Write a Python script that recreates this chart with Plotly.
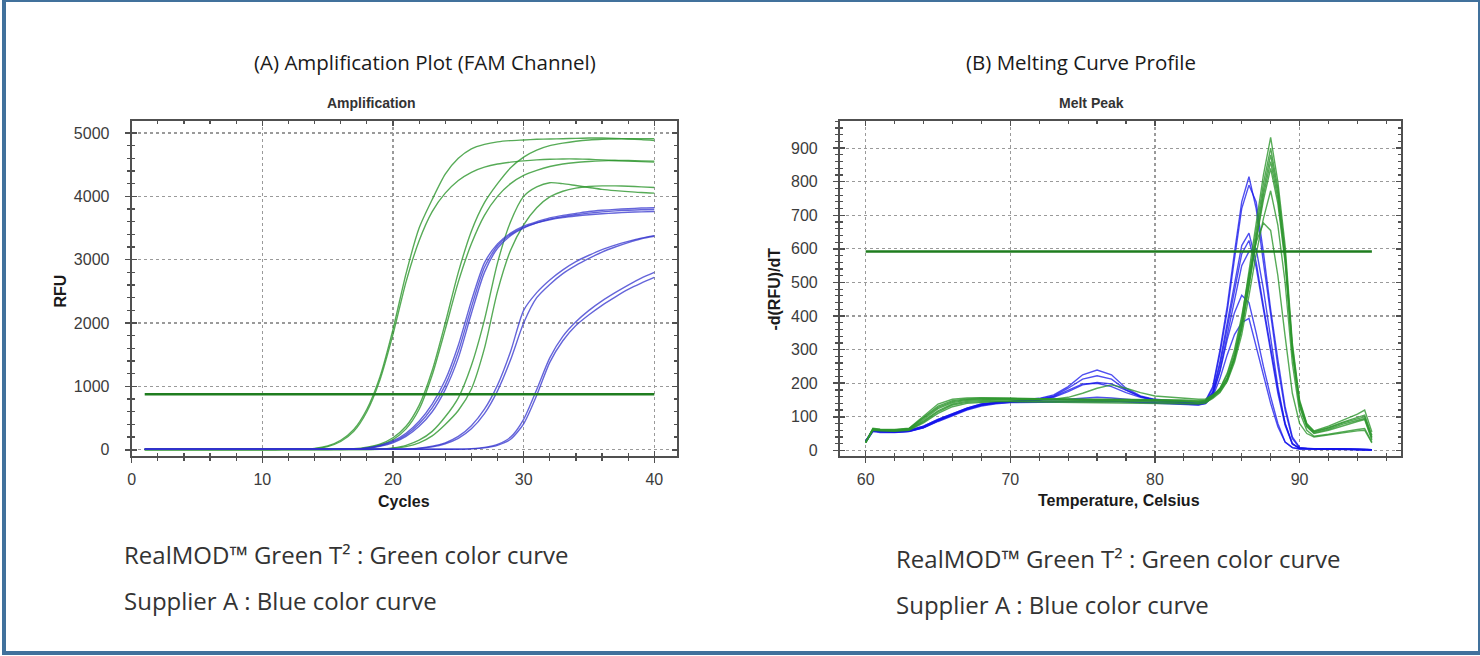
import plotly.graph_objects as go

# ---------------- Amplification data (RFU per cycle) ----------------
cycles = [1, 2, 3, 4, 5, 6, 7, 8, 9, 10, 11, 12, 13, 14, 15, 16, 17, 18, 19, 20,
          21, 22, 23, 24, 25, 26, 27, 28, 29, 30, 31, 32, 33, 34, 35, 36, 37, 38, 39, 40]

amp_green_1a = [5, 5, 5, 5, 5, 5, 5, 5, 5, 5, 5, 6, 8, 20, 60, 150, 320, 640, 1150, 1900,
                2780, 3500, 3950, 4350, 4600, 4750, 4820, 4860, 4880, 4890, 4900, 4905, 4910, 4915, 4920, 4920, 4915, 4905, 4895, 4880]
amp_green_1b = [5, 5, 5, 5, 5, 5, 5, 5, 5, 5, 5, 6, 8, 15, 50, 130, 290, 600, 1100, 1820,
                2650, 3300, 3760, 4050, 4250, 4380, 4460, 4510, 4540, 4560, 4575, 4585, 4590, 4590, 4585, 4575, 4565, 4555, 4548, 4540]
amp_green_2a = [5, 5, 5, 5, 5, 5, 5, 5, 5, 5, 5, 5, 5, 5, 5, 8, 15, 40, 90, 190,
                370, 700, 1250, 2000, 2800, 3450, 3900, 4200, 4450, 4620, 4730, 4800, 4840, 4870, 4890, 4900, 4905, 4910, 4910, 4910]
amp_green_2b = [5, 5, 5, 5, 5, 5, 5, 5, 5, 5, 5, 5, 5, 5, 5, 5, 10, 30, 75, 160,
                330, 640, 1180, 1900, 2650, 3250, 3700, 4000, 4200, 4330, 4410, 4470, 4510, 4535, 4550, 4560, 4565, 4565, 4560, 4555]
amp_green_3a = [5, 5, 5, 5, 5, 5, 5, 5, 5, 5, 5, 5, 5, 5, 5, 5, 5, 5, 10, 30,
                70, 150, 290, 520, 820, 1330, 2050, 2950, 3600, 4000, 4150, 4215, 4200, 4170, 4140, 4110, 4090, 4075, 4060, 4050]
amp_green_3b = [5, 5, 5, 5, 5, 5, 5, 5, 5, 5, 5, 5, 5, 5, 5, 5, 5, 5, 8, 20,
                50, 110, 220, 400, 620, 960, 1600, 2500, 3150, 3550, 3820, 3990, 4080, 4130, 4155, 4165, 4165, 4160, 4150, 4140]

amp_blue_1a = [8, 8, 8, 8, 8, 8, 8, 8, 8, 8, 8, 8, 8, 8, 8, 8, 12, 30, 70, 140,
               260, 450, 720, 1100, 1650, 2350, 2950, 3250, 3420, 3530, 3600, 3660, 3700, 3730, 3760, 3780, 3795, 3805, 3815, 3820]
amp_blue_1b = [8, 8, 8, 8, 8, 8, 8, 8, 8, 8, 8, 8, 8, 8, 8, 8, 10, 22, 55, 110,
               210, 370, 600, 950, 1450, 2150, 2800, 3180, 3380, 3500, 3580, 3640, 3680, 3710, 3735, 3755, 3770, 3780, 3788, 3792]
amp_blue_1c = [8, 8, 8, 8, 8, 8, 8, 8, 8, 8, 8, 8, 8, 8, 8, 8, 11, 26, 62, 125,
               235, 410, 660, 1020, 1550, 2250, 2880, 3220, 3400, 3510, 3580, 3630, 3665, 3690, 3710, 3725, 3738, 3748, 3755, 3760]
amp_blue_2a = [8, 8, 8, 8, 8, 8, 8, 8, 8, 8, 8, 8, 8, 8, 8, 8, 8, 8, 8, 8,
               12, 25, 55, 110, 210, 380, 640, 1020, 1550, 2200, 2480, 2680, 2840, 2970, 3070, 3160, 3230, 3290, 3340, 3380]
amp_blue_2b = [8, 8, 8, 8, 8, 8, 8, 8, 8, 8, 8, 8, 8, 8, 8, 8, 8, 8, 8, 8,
               10, 20, 45, 95, 180, 330, 570, 930, 1420, 2000, 2400, 2610, 2780, 2910, 3020, 3120, 3200, 3270, 3330, 3370]
amp_blue_3a = [8, 8, 8, 8, 8, 8, 8, 8, 8, 8, 8, 8, 8, 8, 8, 8, 8, 8, 8, 8,
               8, 8, 8, 8, 10, 18, 38, 85, 200, 480, 950, 1450, 1790, 2020, 2200, 2350, 2480, 2600, 2710, 2800]
amp_blue_3b = [8, 8, 8, 8, 8, 8, 8, 8, 8, 8, 8, 8, 8, 8, 8, 8, 8, 8, 8, 8,
               8, 8, 8, 8, 9, 14, 30, 70, 165, 410, 860, 1380, 1720, 1960, 2130, 2280, 2410, 2530, 2630, 2720]

amp_threshold_x = [1, 40]
amp_threshold_y = [875, 875]

# ---------------- Melt peak data (-d(RFU)/dT per temperature) ----------------
temps = [60, 60.5, 61, 62, 63, 64, 65, 66, 67, 68, 69, 70, 72, 73, 74, 75, 76, 77, 78, 79,
         80, 82, 83, 83.5, 84, 84.5, 85, 85.5, 86, 86.5, 87, 87.5, 88, 88.5, 89, 89.5, 90, 90.5, 91, 92,
         93, 94, 94.5, 95]

melt_blue_1 = [28, 62, 58, 57, 60, 72, 92, 110, 126, 138, 143, 146, 155, 165, 190, 225, 239, 225, 185, 162,
               152, 145, 142, 148, 190, 300, 430, 590, 740, 815, 720, 560, 400, 250, 120, 35, 8, 6, 5, 5,
               4, 4, 3, 2]
melt_blue_2 = [28, 60, 56, 55, 58, 70, 90, 108, 124, 136, 142, 145, 153, 162, 185, 212, 222, 212, 180, 160,
               150, 143, 140, 146, 185, 290, 415, 570, 720, 790, 740, 590, 420, 270, 130, 40, 9, 6, 5, 5,
               4, 4, 3, 2]
melt_blue_3 = [26, 58, 55, 54, 57, 68, 88, 106, 122, 135, 141, 144, 150, 158, 175, 195, 202, 198, 178, 160,
               150, 142, 138, 144, 175, 265, 380, 500, 610, 647, 560, 430, 300, 180, 80, 20, 6, 5, 5, 4,
               4, 3, 3, 2]
melt_blue_4 = [26, 60, 57, 56, 58, 70, 90, 108, 124, 136, 142, 145, 150, 160, 180, 198, 200, 190, 172, 158,
               148, 141, 138, 144, 172, 255, 365, 480, 585, 625, 545, 420, 290, 170, 75, 18, 6, 5, 4, 4,
               4, 3, 3, 2]
melt_blue_5 = [25, 62, 58, 57, 59, 72, 92, 110, 126, 138, 144, 146, 148, 150, 152, 155, 158, 156, 152, 148,
               145, 140, 138, 143, 168, 240, 340, 450, 550, 592, 600, 480, 330, 190, 80, 20, 6, 5, 4, 4,
               3, 3, 3, 2]
melt_blue_6 = [24, 58, 55, 54, 57, 68, 88, 106, 122, 134, 140, 143, 145, 146, 147, 148, 148, 147, 146, 144,
               142, 138, 136, 140, 165, 235, 330, 410, 462, 440, 350, 250, 160, 80, 25, 8, 4, 4, 4, 3,
               3, 3, 2, 2]
melt_blue_7 = [24, 56, 53, 53, 56, 67, 86, 104, 120, 132, 139, 142, 143, 144, 145, 145, 145, 145, 144, 142,
               140, 137, 135, 139, 160, 215, 285, 345, 380, 393, 310, 220, 140, 70, 25, 8, 4, 4, 3, 3,
               3, 2, 2, 2]

melt_green_1 = [25, 66, 63, 62, 66, 102, 138, 152, 156, 157, 157, 156, 154, 153, 152, 152, 152, 152, 152, 152,
                152, 150, 148, 150, 165, 185, 225, 290, 390, 530, 680, 820, 932, 800, 610, 320, 150, 80, 58, 72,
                90, 108, 120, 55]
melt_green_2 = [25, 64, 62, 61, 65, 98, 132, 148, 153, 155, 155, 155, 153, 152, 151, 151, 151, 151, 151, 150,
                150, 148, 146, 148, 162, 180, 215, 280, 380, 515, 660, 795, 900, 780, 590, 310, 145, 78, 56, 68,
                84, 98, 105, 45]
melt_green_3 = [24, 63, 61, 60, 64, 95, 128, 145, 151, 153, 154, 154, 152, 151, 150, 150, 150, 150, 150, 150,
                149, 147, 145, 147, 160, 178, 212, 275, 370, 500, 645, 775, 880, 765, 580, 300, 140, 75, 55, 66,
                82, 95, 100, 40]
melt_green_4 = [24, 62, 60, 60, 63, 92, 124, 142, 149, 151, 152, 152, 150, 149, 148, 148, 148, 148, 148, 148,
                147, 145, 143, 145, 158, 175, 208, 270, 362, 490, 630, 760, 860, 750, 570, 295, 135, 72, 52, 63,
                78, 90, 95, 35]
melt_green_5 = [24, 62, 60, 59, 62, 88, 118, 138, 146, 149, 150, 150, 150, 152, 158, 170, 185, 195, 185, 172,
                162, 155, 152, 153, 165, 182, 215, 275, 365, 490, 625, 745, 840, 735, 560, 290, 130, 70, 50, 60,
                74, 86, 92, 30]
melt_green_6 = [23, 61, 59, 58, 61, 85, 115, 135, 143, 146, 147, 147, 146, 146, 145, 145, 145, 145, 145, 145,
                144, 142, 140, 142, 155, 172, 205, 262, 345, 460, 585, 690, 773, 670, 500, 260, 115, 60, 42, 48,
                56, 62, 65, 25]
melt_green_7 = [23, 60, 58, 57, 60, 82, 110, 130, 140, 143, 145, 145, 144, 144, 143, 143, 143, 143, 143, 142,
                141, 139, 138, 141, 158, 185, 230, 300, 400, 520, 620, 677, 655, 520, 340, 170, 80, 50, 40, 45,
                52, 58, 60, 22]

melt_threshold_x = [60, 95]
melt_threshold_y = [592, 592]

# ---------------- Texts ----------------
title_a = "(A) Amplification Plot (FAM Channel)"
title_b = "(B) Melting Curve Profile"
inner_a = "Amplification"
inner_b = "Melt Peak"
note_green = "RealMOD™ Green T² : Green color curve"
note_blue = "Supplier A : Blue color curve"

# ---------------- Styling ----------------
W, H = 1480, 656
GREEN = "rgba(45,150,45,0.80)"
BLUE_AMP = "rgba(50,50,205,0.75)"
BLUE_MELT = "rgba(20,20,235,0.75)"
THRESH = "#1f7d1f"
FRAME = "#505050"
GRID = "#9a9a9a"
TICKFONT = dict(family="Liberation Sans, Arial", size=16, color="#3c3c3c")


def px(x):
    return x / W


def py(y):
    return 1 - y / H


fig = go.Figure()

for ys in [amp_green_1a, amp_green_1b, amp_green_2a, amp_green_2b, amp_green_3a, amp_green_3b]:
    fig.add_trace(go.Scatter(x=cycles, y=ys, mode="lines", xaxis="x", yaxis="y",
                             line=dict(color=GREEN, width=1.4, shape="spline", smoothing=0.7),
                             showlegend=False, hoverinfo="skip"))
for ys in [amp_blue_1a, amp_blue_1b, amp_blue_1c, amp_blue_2a, amp_blue_2b, amp_blue_3a, amp_blue_3b]:
    fig.add_trace(go.Scatter(x=cycles, y=ys, mode="lines", xaxis="x", yaxis="y",
                             line=dict(color=BLUE_AMP, width=1.4, shape="spline", smoothing=0.7),
                             showlegend=False, hoverinfo="skip"))
fig.add_trace(go.Scatter(x=amp_threshold_x, y=amp_threshold_y, mode="lines", xaxis="x3", yaxis="y3",
                         line=dict(color=THRESH, width=2.6), showlegend=False, hoverinfo="skip"))

for ys in [melt_blue_1, melt_blue_2, melt_blue_3, melt_blue_4, melt_blue_5, melt_blue_6, melt_blue_7]:
    fig.add_trace(go.Scatter(x=temps, y=ys, mode="lines", xaxis="x2", yaxis="y2",
                             line=dict(color=BLUE_MELT, width=1.4), showlegend=False, hoverinfo="skip"))
for ys in [melt_green_1, melt_green_2, melt_green_3, melt_green_4, melt_green_5, melt_green_6, melt_green_7]:
    fig.add_trace(go.Scatter(x=temps, y=ys, mode="lines", xaxis="x2", yaxis="y2",
                             line=dict(color=GREEN, width=1.4), showlegend=False, hoverinfo="skip"))
fig.add_trace(go.Scatter(x=melt_threshold_x, y=melt_threshold_y, mode="lines", xaxis="x4", yaxis="y4",
                         line=dict(color=THRESH, width=2.6), showlegend=False, hoverinfo="skip"))

dom_y = [py(458.5), py(121.5)]
dom_a = [px(128), px(675)]
dom_b = [px(838.2), px(1400.6)]
rng_ax = [0, 41.75]
rng_ay = [-105, 5190]
rng_bx = [58.22, 97.0]
rng_by = [-18, 981]


def base_axis(domain, rng, dtick, minor_dtick, anchor, standoff):
    return dict(domain=domain, range=rng, anchor=anchor, showline=True, linecolor=FRAME, linewidth=2,
                mirror=True, ticks="outside", ticklen=5, tickwidth=1.5, tickcolor=FRAME,
                tick0=0, dtick=dtick, tickfont=TICKFONT, ticklabelstandoff=standoff,
                minor=dict(ticks="outside", ticklen=3, tickwidth=1.2, tickcolor=FRAME, dtick=minor_dtick,
                           tick0=0, showgrid=False),
                showgrid=True, gridcolor=GRID, griddash="dot", gridwidth=1.2, zeroline=False,
                fixedrange=True)


def over_axis(overlay, rng, dtick, minor_dtick, anchor):
    return dict(overlaying=overlay, range=rng, anchor=anchor, showline=False, mirror="ticks",
                ticks="inside", ticklen=5, tickwidth=1.5, tickcolor=FRAME, tick0=0, dtick=dtick,
                showticklabels=False,
                minor=dict(ticks="inside", ticklen=3, tickwidth=1.2, tickcolor=FRAME, dtick=minor_dtick, tick0=0),
                showgrid=False, zeroline=False, fixedrange=True)


fig.update_layout(
    width=W, height=H, margin=dict(l=0, r=0, t=0, b=0),
    paper_bgcolor="white", plot_bgcolor="white", showlegend=False,
    xaxis=base_axis(dom_a, rng_ax, 10, 2, "y", 2),
    yaxis=base_axis(dom_y, rng_ay, 1000, 200, "x", 12),
    xaxis2=base_axis(dom_b, rng_bx, 10, 2, "y2", 2),
    yaxis2=base_axis(dom_y, rng_by, 100, 20, "x2", 12),
    xaxis3=over_axis("x", rng_ax, 10, 2, "y3"),
    yaxis3=over_axis("y", rng_ay, 1000, 200, "x3"),
    xaxis4=over_axis("x2", rng_bx, 10, 2, "y4"),
    yaxis4=over_axis("y2", rng_by, 100, 20, "x4"),
)
fig.update_layout(xaxis2=dict(tick0=60), xaxis4=dict(tick0=60))

ann = []


def add_text(text, x, y, size, family, color="#222222", bold=False, angle=0, xanchor="center"):
    ann.append(dict(text=("<b>%s</b>" % text) if bold else text, x=px(x), y=py(y), xref="paper", yref="paper",
                    showarrow=False, xanchor=xanchor, yanchor="middle", textangle=angle,
                    font=dict(family=family, size=size, color=color)))


add_text(title_a, 422, 62, 20.5, "Open Sans, Noto Sans", "#1a1a1a")
add_text(title_b, 1080, 62, 20.5, "Open Sans, Noto Sans", "#1a1a1a")
add_text(inner_a, 368, 103, 14, "Liberation Sans, Arial", "#333333", bold=True)
add_text(inner_b, 1090, 103, 14, "Liberation Sans, Arial", "#333333", bold=True)
add_text("RFU", 57, 292, 16, "Liberation Sans, Arial", "#1a1a1a", bold=True, angle=-90)
add_text("Cycles", 401, 504, 16, "Liberation Sans, Arial", "#1a1a1a", bold=True)
add_text("-d(RFU)/dT", 773, 290, 16, "Liberation Sans, Arial", "#1a1a1a", bold=True, angle=-90)
add_text("Temperature, Celsius", 1118, 503, 16, "Liberation Sans, Arial", "#1a1a1a", bold=True)
add_text(note_green, 118, 557, 24, "Open Sans, Noto Sans", "#333333", xanchor="left")
add_text(note_blue, 118, 603, 24, "Open Sans, Noto Sans", "#333333", xanchor="left")
add_text(note_green, 892, 561, 24, "Open Sans, Noto Sans", "#333333", xanchor="left")
add_text(note_blue, 892, 607, 24, "Open Sans, Noto Sans", "#333333", xanchor="left")
fig.update_layout(annotations=ann)

fig.update_layout(shapes=[dict(type="rect", xref="paper", yref="paper", x0=0, x1=1, y0=0, y1=1,
                               line=dict(color="#41719c", width=4), fillcolor="rgba(0,0,0,0)", layer="above")])

fig.write_html("out.html", include_plotlyjs=True, config=dict(displayModeBar=False, staticPlot=True),
               post_script="document.body.style.margin='0';document.body.style.overflow='hidden';")
